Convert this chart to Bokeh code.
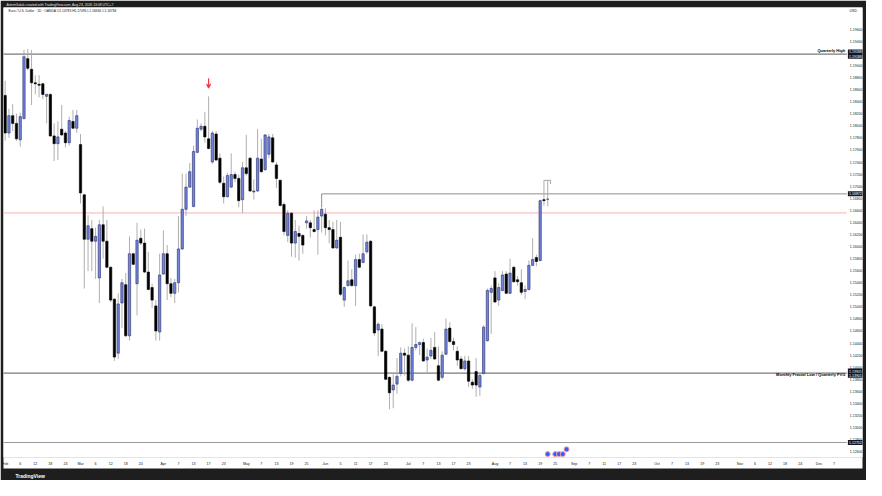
import pandas as pd
from bokeh.plotting import figure
from bokeh.models import (Range1d, FixedTicker, PrintfTickFormatter, Label,
                          Title, Arrow, OpenHead, ColumnDataSource)
from bokeh.embed import file_html
from bokeh.resources import INLINE

# ---------------- data (EUR/USD daily, OANDA) ----------------
start_date = "2026-02-02"

opens = [1.18504, 1.17880, 1.18168, 1.18040, 1.17768, 1.18120, 1.19112, 1.18936, 1.18712, 1.18688,
         1.18696, 1.18488, 1.18520, 1.17832, 1.17704, 1.17944, 1.17880, 1.17720, 1.18072, 1.17960,
         1.17688, 1.16856, 1.16120, 1.16296, 1.16088, 1.15480, 1.16360, 1.16088, 1.15656, 1.15128,
         1.14232, 1.15064, 1.15368, 1.14520, 1.15880, 1.15384, 1.16136, 1.16056, 1.15576, 1.15320,
         1.15016, 1.14584, 1.15544, 1.15880, 1.15384, 1.15224, 1.15400, 1.15960, 1.16616, 1.16984,
         1.16664, 1.17560, 1.17944, 1.17992, 1.17784, 1.17400, 1.17864, 1.17464, 1.17048, 1.16824,
         1.16984, 1.17192, 1.17128, 1.16776, 1.17304, 1.17464, 1.16904, 1.16920, 1.17448, 1.17272,
         1.17528, 1.17800, 1.17352, 1.17096, 1.16696, 1.16184, 1.16552, 1.16056, 1.16216, 1.16184,
         1.16392, 1.16392, 1.16280, 1.16280, 1.16504, 1.16536, 1.16312, 1.16280, 1.15976, 1.16152,
         1.15112, 1.15352, 1.15448, 1.15352, 1.15784, 1.15736, 1.15912, 1.16088, 1.15000, 1.14616,
         1.14632, 1.14264, 1.13832, 1.13624, 1.13720, 1.13896, 1.14232, 1.14200, 1.13784, 1.14328,
         1.14376, 1.14408, 1.14120, 1.14184, 1.14328, 1.14024, 1.13832, 1.14216, 1.14648, 1.14424,
         1.14264, 1.14136, 1.13976, 1.14104, 1.13752, 1.13928, 1.13672, 1.13896, 1.14440, 1.15240,
         1.15480, 1.15112, 1.15272, 1.15544, 1.15224, 1.15656, 1.15448, 1.15400, 1.15256, 1.15288,
         1.15688, 1.15816, 1.15768, 1.16776, 1.16783]
highs = [1.18744, 1.18280, 1.18360, 1.18200, 1.18216, 1.19256, 1.19272, 1.19256, 1.18840, 1.18840,
         1.18712, 1.18536, 1.18536, 1.18040, 1.18072, 1.18344, 1.17912, 1.18152, 1.18264, 1.18264,
         1.17864, 1.16872, 1.16520, 1.16440, 1.16312, 1.16440, 1.16664, 1.16440, 1.15672, 1.15144,
         1.15224, 1.15464, 1.15560, 1.16168, 1.15896, 1.16392, 1.16280, 1.16296, 1.15912, 1.15384,
         1.15112, 1.15880, 1.16264, 1.16024, 1.15480, 1.15464, 1.16504, 1.17208, 1.17208, 1.17384,
         1.17672, 1.18104, 1.18040, 1.18232, 1.18488, 1.17912, 1.17912, 1.17544, 1.17160, 1.17224,
         1.17544, 1.17240, 1.17192, 1.17400, 1.17848, 1.17480, 1.17112, 1.17944, 1.17784, 1.17864,
         1.17864, 1.17864, 1.17400, 1.17110, 1.16728, 1.16600, 1.16568, 1.16440, 1.16344, 1.16200,
         1.16504, 1.16440, 1.16600, 1.16600, 1.16648, 1.16632, 1.16440, 1.16408, 1.16440, 1.16408,
         1.15336, 1.15768, 1.15624, 1.15864, 1.15880, 1.16200, 1.16200, 1.16104, 1.15016, 1.14744,
         1.14712, 1.14280, 1.13848, 1.13880, 1.14152, 1.14328, 1.14312, 1.14344, 1.14728, 1.14664,
         1.14424, 1.14472, 1.14312, 1.14488, 1.14584, 1.14344, 1.14264, 1.14808, 1.14744, 1.14488,
         1.14344, 1.14184, 1.14184, 1.14184, 1.13800, 1.14152, 1.13912, 1.14696, 1.15304, 1.15352,
         1.15592, 1.15400, 1.15592, 1.15592, 1.15800, 1.15672, 1.15512, 1.15624, 1.15352, 1.15768,
         1.16136, 1.15864, 1.16776, 1.17096, 1.17096]
lows = [1.17752, 1.17800, 1.17912, 1.17752, 1.17656, 1.18104, 1.18920, 1.18344, 1.18520, 1.18472,
        1.18440, 1.18040, 1.17816, 1.17416, 1.17432, 1.17832, 1.17640, 1.17672, 1.17944, 1.17880,
        1.16712, 1.15304, 1.15592, 1.15592, 1.15464, 1.15064, 1.15800, 1.15640, 1.15080, 1.14104,
        1.14136, 1.14648, 1.14504, 1.14440, 1.15690, 1.14856, 1.16024, 1.15560, 1.15272, 1.14984,
        1.14440, 1.14440, 1.15528, 1.15112, 1.15160, 1.15064, 1.15240, 1.15944, 1.16504, 1.16970,
        1.16650, 1.17544, 1.17912, 1.17720, 1.17608, 1.17368, 1.17416, 1.17032, 1.16712, 1.16810,
        1.16970, 1.17064, 1.16648, 1.16552, 1.17176, 1.16904, 1.16776, 1.16904, 1.17224, 1.17256,
        1.17464, 1.17384, 1.16968, 1.16664, 1.16184, 1.16072, 1.15832, 1.15816, 1.15768, 1.15880,
        1.16296, 1.16152, 1.16232, 1.15864, 1.16232, 1.16184, 1.16056, 1.15960, 1.15960, 1.15176,
        1.15000, 1.15336, 1.15336, 1.15016, 1.15640, 1.15720, 1.15880, 1.15000, 1.14520, 1.14184,
        1.14250, 1.13784, 1.13304, 1.13320, 1.13560, 1.13848, 1.13864, 1.13752, 1.13768, 1.14280,
        1.14200, 1.14088, 1.13896, 1.14136, 1.14120, 1.13770, 1.13800, 1.14200, 1.14410, 1.14280,
        1.14024, 1.13960, 1.13944, 1.13672, 1.13640, 1.13512, 1.13528, 1.13880, 1.14424, 1.14552,
        1.15064, 1.15016, 1.15256, 1.15210, 1.15210, 1.15400, 1.15352, 1.15192, 1.15128, 1.15272,
        1.15672, 1.15672, 1.15752, 1.16680, 1.16666]
closes = [1.17880, 1.18168, 1.18040, 1.17784, 1.18152, 1.19144, 1.18952, 1.18712, 1.18696, 1.18672,
          1.18520, 1.18520, 1.17832, 1.17704, 1.17816, 1.17848, 1.17720, 1.18088, 1.17960, 1.18168,
          1.16888, 1.16120, 1.16344, 1.16088, 1.16168, 1.16360, 1.16088, 1.15656, 1.15112, 1.14168,
          1.15048, 1.15400, 1.14520, 1.15880, 1.15704, 1.16104, 1.16056, 1.15576, 1.15288, 1.15112,
          1.14600, 1.15528, 1.15880, 1.15384, 1.15224, 1.15400, 1.15960, 1.16616, 1.16984, 1.17240,
          1.17576, 1.17960, 1.17992, 1.17816, 1.17624, 1.17880, 1.17432, 1.17064, 1.16824, 1.17176,
          1.17192, 1.17128, 1.16760, 1.17304, 1.17208, 1.16920, 1.16920, 1.17464, 1.17240, 1.17848,
          1.17816, 1.17400, 1.17128, 1.16680, 1.16248, 1.16552, 1.16056, 1.16248, 1.16168, 1.16024,
          1.16424, 1.16312, 1.16248, 1.16488, 1.16616, 1.16312, 1.16280, 1.15976, 1.16104, 1.15208,
          1.15320, 1.15432, 1.15352, 1.15784, 1.15656, 1.15880, 1.16072, 1.15016, 1.14568, 1.14712,
          1.14264, 1.13800, 1.13576, 1.13704, 1.13848, 1.14232, 1.14200, 1.13784, 1.14328, 1.14376,
          1.14408, 1.14104, 1.14168, 1.14280, 1.14136, 1.13784, 1.14200, 1.14632, 1.14424, 1.14376,
          1.14120, 1.13976, 1.14104, 1.13768, 1.13704, 1.13704, 1.13864, 1.14664, 1.15272, 1.15304,
          1.15080, 1.15320, 1.15528, 1.15224, 1.15560, 1.15416, 1.15416, 1.15240, 1.15288, 1.15688,
          1.15784, 1.15752, 1.16760, 1.16760, 1.16784]

price_ticks = [1.126, 1.128, 1.130, 1.132, 1.134, 1.136, 1.138, 1.140, 1.142, 1.144, 1.146, 1.148,
               1.150, 1.152, 1.154, 1.156, 1.158, 1.160, 1.162, 1.164, 1.166, 1.168, 1.170, 1.172,
               1.174, 1.176, 1.178, 1.180, 1.182, 1.184, 1.186, 1.188, 1.190, 1.192, 1.194, 1.196]

tick_dates = ["2026-02-02", "2026-02-06", "2026-02-12", "2026-02-18", "2026-02-24",
              "2026-03-02", "2026-03-06", "2026-03-12", "2026-03-18", "2026-03-24",
              "2026-04-01", "2026-04-07", "2026-04-13", "2026-04-17", "2026-04-23",
              "2026-05-01", "2026-05-07", "2026-05-13", "2026-05-19", "2026-05-25",
              "2026-06-01", "2026-06-05", "2026-06-11", "2026-06-17", "2026-06-23",
              "2026-07-01", "2026-07-07", "2026-07-13", "2026-07-17", "2026-07-23",
              "2026-08-03", "2026-08-07", "2026-08-13", "2026-08-19", "2026-08-25",
              "2026-09-01", "2026-09-07", "2026-09-11", "2026-09-17", "2026-09-23",
              "2026-10-01", "2026-10-07", "2026-10-13", "2026-10-19", "2026-10-23",
              "2026-11-02", "2026-11-06", "2026-11-12", "2026-11-18", "2026-11-24",
              "2026-12-01", "2026-12-07"]
tick_labels = ["Feb", "6", "12", "18", "24", "Mar", "6", "12", "18", "24",
               "Apr", "7", "13", "17", "23", "May", "7", "13", "19", "25",
               "Jun", "5", "11", "17", "23", "Jul", "7", "13", "17", "23",
               "Aug", "7", "13", "19", "25", "Sep", "7", "11", "17", "23",
               "Oct", "7", "13", "19", "23", "Nov", "6", "12", "18", "24",
               "Dec", "7"]

quarterly_high = 1.19188
monthly_fractal_low = 1.13901
bottom_level = 1.12752
pink_level = 1.16556
june_high_level = 1.16872
june_high_bar = 84
june_high_wick = 1.16648
signal_bar = 54
event_bars = [144, 146, 147, 148, 149]
event_prices = [1.12560, 1.12560, 1.12560, 1.12560, 1.12640]

header_text = "Euro / U.S. Dollar · 1D · OANDA  O1.16783 H1.17096 L1.16666 C1.16784"
snapshot_text = "ArtemGalak created with TradingView.com, Aug 23, 2026 13:08 UTC+7"

# ---------------- styling ----------------
DARK = "#1e1e1e"
TXT = "#131722"
UP_FILL = "#6e84dd"
UP_LINE = "#2b2f6b"
DN_FILL = "#000000"
WICK = "#a6a6a6"
RED = "#f23645"
FONT = "Liberation Sans"

dates = pd.bdate_range(start_date, periods=260)
date_pos = {d.strftime("%Y-%m-%d"): i for i, d in enumerate(dates)}
tick_pos = [date_pos[d] for d in tick_dates]

idx = list(range(len(opens)))
up = [c >= o for o, c in zip(opens, closes)]
src = ColumnDataSource(dict(
    x=idx, o=opens, h=highs, l=lows, c=closes,
    top=[max(o, c) for o, c in zip(opens, closes)],
    bottom=[min(o, c) for o, c in zip(opens, closes)],
    fill=[UP_FILL if u else DN_FILL for u in up],
    line=[UP_LINE if u else DN_FILL for u in up],
))

X_PANE = 223.37   # right edge of the price pane (start of price scale)
X_END = 227.55    # right edge of the price scale
X_START = -0.44
p = figure(width=866, height=480, output_backend="svg", toolbar_location=None, tools="",
           x_range=Range1d(X_START, X_END), y_range=Range1d(1.12504, 1.19960),
           y_axis_location="right",
           min_border_left=3, min_border_right=4, min_border_top=7, min_border_bottom=23)
p.border_fill_color = DARK
p.background_fill_color = "white"
p.outline_line_color = None
p.grid.visible = False

p.title.text = snapshot_text
p.title.align = "left"
p.title.text_font = FONT
p.title.text_font_size = "3.4px"
p.title.text_font_style = "normal"
p.title.text_color = "#e0e0e0"
p.title.standoff = 1
p.title.offset = 3

yax = p.yaxis[0]
yax.fixed_location = X_PANE
yax.ticker = FixedTicker(ticks=price_ticks)
yax.formatter = PrintfTickFormatter(format="%.5f")
yax.major_label_text_font = FONT
yax.major_label_text_font_size = "3.6px"
yax.major_label_text_color = TXT
yax.axis_line_color = None
yax.major_tick_line_color = None
yax.minor_tick_line_color = None
yax.major_tick_out = 0
yax.major_tick_in = 0
yax.major_label_standoff = 3

xax = p.xaxis[0]
xax.ticker = FixedTicker(ticks=tick_pos)
xax.major_label_overrides = {pos: lab for pos, lab in zip(tick_pos, tick_labels)}
xax.major_label_text_font = FONT
xax.major_label_text_font_size = "3.6px"
xax.major_label_text_color = TXT
xax.axis_line_color = None
xax.major_tick_line_color = None
xax.minor_tick_line_color = None
xax.major_tick_out = 0
xax.major_tick_in = 0
xax.major_label_standoff = 4
xax.background_fill_color = "white"

p.add_layout(Title(text="TradingView", align="left", text_color="white", text_font=FONT,
                   text_font_size="5px", text_font_style="bold", offset=12, standoff=4), "below")

# horizontal levels (end at the price scale)
p.segment(x0=[X_START - 1] * 4, x1=[X_PANE] * 4,
          y0=[pink_level, quarterly_high, monthly_fractal_low, bottom_level],
          y1=[pink_level, quarterly_high, monthly_fractal_low, bottom_level],
          line_color=["#f5b3b3", "#7a7a7a", "#7a7a7a", "#9a9a9a"],
          line_width=[1, 1.3, 1.3, 1.1])
p.line(x=[june_high_bar, june_high_bar, X_PANE], y=[june_high_wick, june_high_level, june_high_level],
       line_color="#8f8f8f", line_width=1)
p.line(x=[143, 144.75, 144.75], y=[highs[143], highs[143], highs[143] - 0.0006],
       line_color="#8f8f8f", line_width=0.8)

# candles
p.segment(x0="x", y0="h", x1="x", y1="l", source=src, line_color=WICK, line_width=0.9)
p.vbar(x="x", width=0.62, top="top", bottom="bottom", fill_color="fill", line_color="line",
       line_width=0.6, source=src)

# signal arrow
p.add_layout(Arrow(end=OpenHead(size=4, line_color=RED, line_width=1.2),
                   x_start=signal_bar, y_start=highs[signal_bar] + 0.0030,
                   x_end=signal_bar, y_end=highs[signal_bar] + 0.0014,
                   line_color=RED, line_width=1.2))

# event markers
p.scatter(x=event_bars, y=event_prices, size=5, fill_color="#2962ff", line_color="#f49aaa", line_width=1)

# texts
p.add_layout(Label(x=0.9, y=1.19912, text=header_text, text_font=FONT, text_font_size="3.3px",
                   text_color=TXT, text_baseline="middle"))
p.add_layout(Label(x=X_PANE - 0.4, y=quarterly_high + 0.0001, text="Quarterly High", text_font=FONT,
                   text_font_size="4px", text_font_style="bold", text_color="#000000",
                   text_align="right", text_baseline="bottom"))
p.add_layout(Label(x=X_PANE - 0.4, y=monthly_fractal_low - 0.0003, text="Monthly Fractal Low / Quarterly FVG",
                   text_font=FONT, text_font_size="4px", text_font_style="bold", text_color="#000000",
                   text_align="right", text_baseline="middle"))
p.add_layout(Label(x=X_PANE + 0.7, y=1.19896, text="USD", text_font=FONT, text_font_size="3.6px",
                   text_color=TXT, text_baseline="middle"))


def price_box(y, txt):
    p.add_layout(Label(x=X_PANE + 0.3, y=y, text=txt, text_font=FONT, text_font_size="3.6px",
                       text_color="white", background_fill_color="#131722", text_baseline="middle",
                       text_align="left", padding=1))


price_box(quarterly_high + 0.00035, "1.19188")
price_box(quarterly_high - 0.00035, "1.19188")
price_box(june_high_level, "1.16872")
price_box(monthly_fractal_low + 0.00035, "1.13901")
price_box(monthly_fractal_low - 0.00035, "1.13901")
price_box(bottom_level, "1.12752")

open("out.html", "w").write(file_html(p, INLINE))
